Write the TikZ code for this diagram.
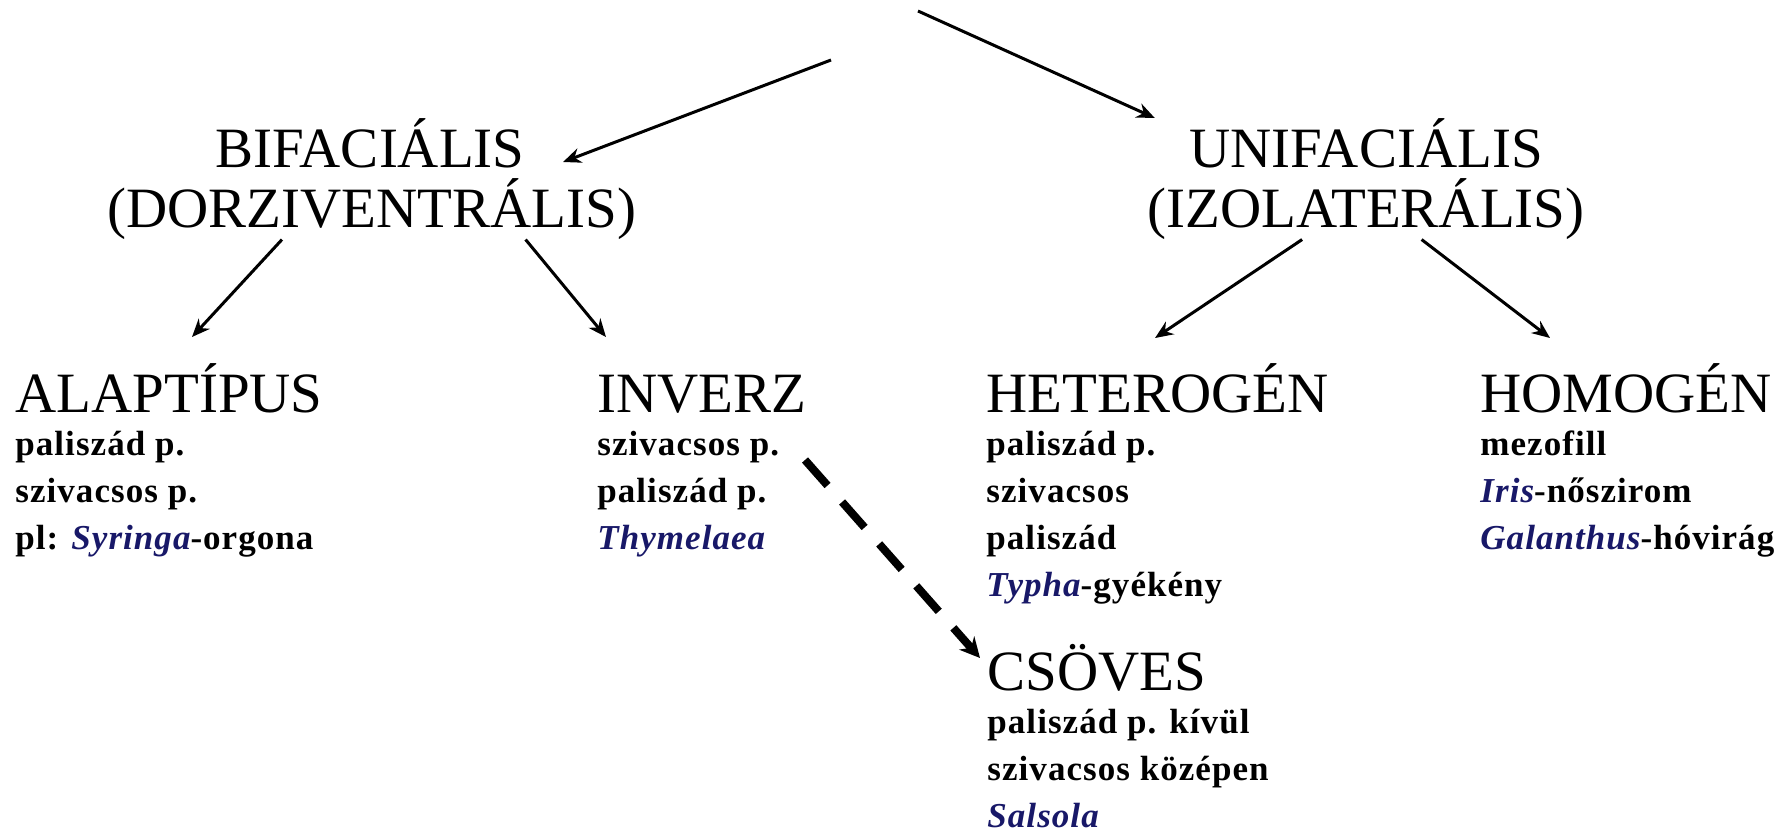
\documentclass[tikz,border=0pt]{standalone}
\usepackage{fontspec}
\setmainfont{Liberation Serif}
\newfontfamily\bodyfont{Liberation Serif}[LetterSpace=3]
\usepackage{xcolor}
\usetikzlibrary{arrows.meta,calc}
\definecolor{specblue}{RGB}{24,24,104}
\newcommand{\spec}[1]{{\color{specblue}\itshape #1}}
\newcommand{\lines}[1]{\begin{tabular}[t]{@{}l@{}}#1\end{tabular}}

\tikzset{
  head/.style={inner sep=0pt, font=\fontsize{28.5}{30}\selectfont},
  body/.style={inner sep=0pt, anchor=base west,
    font=\bodyfont\bfseries\fontsize{17.5}{23.5}\selectfont},
  arr/.style={-{Stealth[length=9pt,width=7.5pt]}, line width=1.5pt},
  dasharr/.style={-{Stealth[length=10pt,width=10pt]}, line width=4pt,
    dash pattern=on 17pt off 11pt}
}

\begin{document}
\begin{tikzpicture}[x=0.5pt,y=-0.5pt]
  \useasboundingbox (0,0) rectangle (1792,836);

  % upper level
  \node[head, anchor=base] (bif)  at (370,167)  {BIFACIÁLIS};
  \node[head, anchor=base] (dorz) at (372,227)  {(DORZIVENTRÁLIS)};
  \node[head, anchor=base] (uni)  at (1366,167) {UNIFACIÁLIS};
  \node[head, anchor=base] (izol) at (1366,227) {(IZOLATERÁLIS)};
  \coordinate (src1) at (831,60);
  \coordinate (src2) at (918,11);

  % lower level
  \node[head, anchor=base west] (alap) at (15,412)   {ALAPTÍPUS};
  \node[head, anchor=base west] (inv)  at (597,412)  {INVERZ};
  \node[head, anchor=base west] (het)  at (986,412)  {HETEROGÉN};
  \node[head, anchor=base west] (hom)  at (1480,412) {HOMOGÉN};
  \node[head, anchor=base west] (csov) at (987,690)  {CSÖVES};

  \node[body] (alapbody) at ($(alap.base west)+(0,43)$)
    {\lines{paliszád p.\\ szivacsos p.\\ pl: \spec{Syringa}-orgona}};
  \node[body] (invbody) at ($(inv.base west)+(0,43)$)
    {\lines{szivacsos p.\\ paliszád p.\\ \spec{Thymelaea}}};
  \node[body] (hetbody) at ($(het.base west)+(0,43)$)
    {\lines{paliszád p.\\ szivacsos\\ paliszád\\ \spec{Typha}-gyékény}};
  \node[body] (hombody) at ($(hom.base west)+(0,43)$)
    {\lines{mezofill\\ \spec{Iris}-nőszirom\\ \spec{Galanthus}-hóvirág}};
  \node[body] (csovbody) at ($(csov.base west)+(0,43)$)
    {\lines{paliszád p. kívül\\ szivacsos középen\\ \spec{Salsola}}};

  % arrows
  \draw[arr] (src1) -- ($(bif.base east)+(38,-5)$);
  \draw[arr] (src2) -- ($(uni.base west)+(-34,-49)$);
  \draw[arr] ($(dorz.south west)!0.33!(dorz.south east)$) -- ($(alap.base west)+(177,-75)$);
  \draw[arr] ($(dorz.south west)!0.79!(dorz.south east)$) -- ($(inv.base west)+(9,-75)$);
  \draw[arr] ($(izol.south west)!0.354!(izol.south east)$) -- ($(het.base west)+(169,-74)$);
  \draw[arr] ($(izol.south west)!0.627!(izol.south east)$) -- ($(hom.base west)+(70,-74)$);
  \draw[dasharr] ($(invbody.base west)+(208,5)$) -- ($(csov.base west)+(-7,-32)$);
\end{tikzpicture}
\end{document}
